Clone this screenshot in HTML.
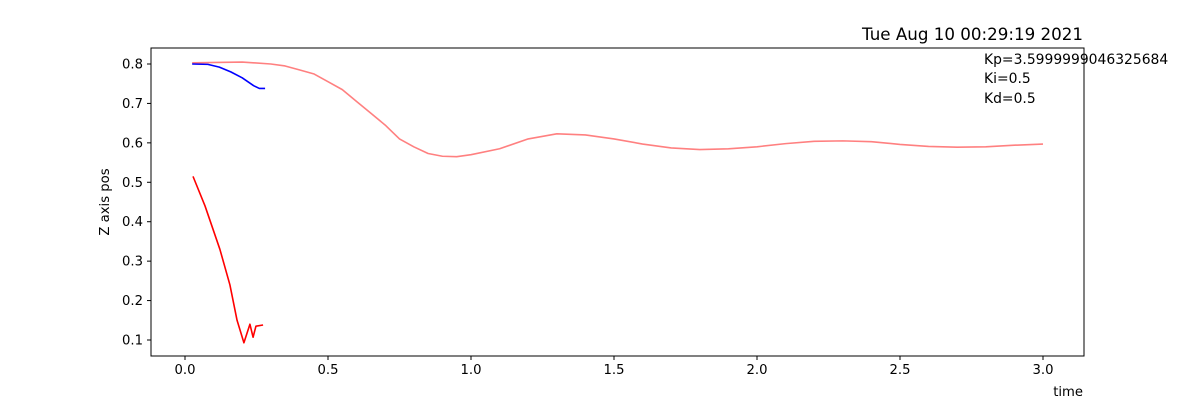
<!DOCTYPE html>
<html><head><meta charset="utf-8"><style>
html,body{margin:0;padding:0;background:#fff;}
svg{display:block;font-family:"DejaVu Sans","Liberation Sans",sans-serif;}
</style></head><body>
<svg id="chart" width="1204" height="400" xmlns="http://www.w3.org/2000/svg">
<rect x="0" y="0" width="1204" height="400" fill="#fff"/>
<text x="1083" y="40" text-anchor="end" font-size="16.7">Tue Aug 10 00:29:19 2021</text>
<text transform="translate(109,202) rotate(-90)" text-anchor="middle" font-size="13.2">Z axis pos</text>
<text x="1083" y="396" text-anchor="end" font-size="13.2">time</text>
<g font-size="13.9">
<text x="984" y="64">Kp=3.5999999046325684</text>
<text x="984" y="83">Ki=0.5</text>
<text x="984" y="103">Kd=0.5</text>
</g>
<g id="series"></g>
<g id="axes"></g>
</svg>
<script>
const xTicks=[0,0.5,1.0,1.5,2.0,2.5,3.0];
const xTickLabels=["0.0","0.5","1.0","1.5","2.0","2.5","3.0"];
const yTicks=[0.1,0.2,0.3,0.4,0.5,0.6,0.7,0.8];
const yTickLabels=["0.1","0.2","0.3","0.4","0.5","0.6","0.7","0.8"];
const pinkT=[0.025,0.2,0.3,0.35,0.4,0.45,0.5,0.55,0.6,0.65,0.7,0.75,0.8,0.85,0.9,0.95,1.0,1.1,1.2,1.3,1.4,1.5,1.6,1.7,1.8,1.9,2.0,2.1,2.2,2.3,2.4,2.5,2.6,2.7,2.8,2.9,3.0];
const pinkZ=[0.803,0.805,0.8,0.795,0.785,0.775,0.755,0.735,0.705,0.675,0.645,0.61,0.59,0.573,0.566,0.565,0.57,0.585,0.61,0.623,0.62,0.61,0.597,0.587,0.583,0.585,0.59,0.598,0.604,0.605,0.603,0.596,0.591,0.589,0.59,0.594,0.597];
const blueT=[0.025,0.08,0.12,0.16,0.2,0.24,0.26,0.28];
const blueZ=[0.8,0.799,0.792,0.78,0.765,0.745,0.738,0.738];
const redT=[0.028,0.07,0.122,0.157,0.182,0.206,0.227,0.238,0.248,0.273];
const redZ=[0.515,0.44,0.33,0.24,0.15,0.093,0.14,0.107,0.135,0.138];
const L=151,R=1084,T=48,B=356;
const X=t=>185+t*286;
const Y=v=>340-(v-0.1)*394.3;
const NS="http://www.w3.org/2000/svg";
function mk(tag,attrs,parent){const e=document.createElementNS(NS,tag);for(const k in attrs)e.setAttribute(k,attrs[k]);parent.appendChild(e);return e;}
const ax=document.getElementById('axes'),se=document.getElementById('series');
const frame=mk('rect',{x:L,y:T,width:R-L,height:B-T,fill:'none',stroke:'#000','stroke-width':1},ax);


xTicks.forEach((t,i)=>{
 const l=mk('line',{x1:X(t),x2:X(t),y1:B,y2:B+4,stroke:'#000'},ax);
 
 
 const tx=mk('text',{x:X(t),y:B+18,'text-anchor':'middle','font-size':13.2},ax);
 
 
 tx.textContent=xTickLabels[i];
});
yTicks.forEach((v,i)=>{
 const l=mk('line',{x1:L-4,x2:L,y1:Y(v),y2:Y(v),stroke:'#000'},ax);
 
 
 const tx=mk('text',{x:L-8,y:Y(v)+4.5,'text-anchor':'end','font-size':13.2},ax);
 
 
 tx.textContent=yTickLabels[i];
});
function line(ts,zs,color,name){
 const p=mk('polyline',{points:ts.map((t,i)=>X(t)+','+Y(zs[i])).join(' '),fill:'none',stroke:color,'stroke-width':1.6,'stroke-linejoin':'round'},se);
 
 
}
line(pinkT,pinkZ,'#ff8080','reference-line');
line(blueT,blueZ,'#0000ff','blue-line');
line(redT,redZ,'#ff0000','red-line');
</script>
</body></html>
